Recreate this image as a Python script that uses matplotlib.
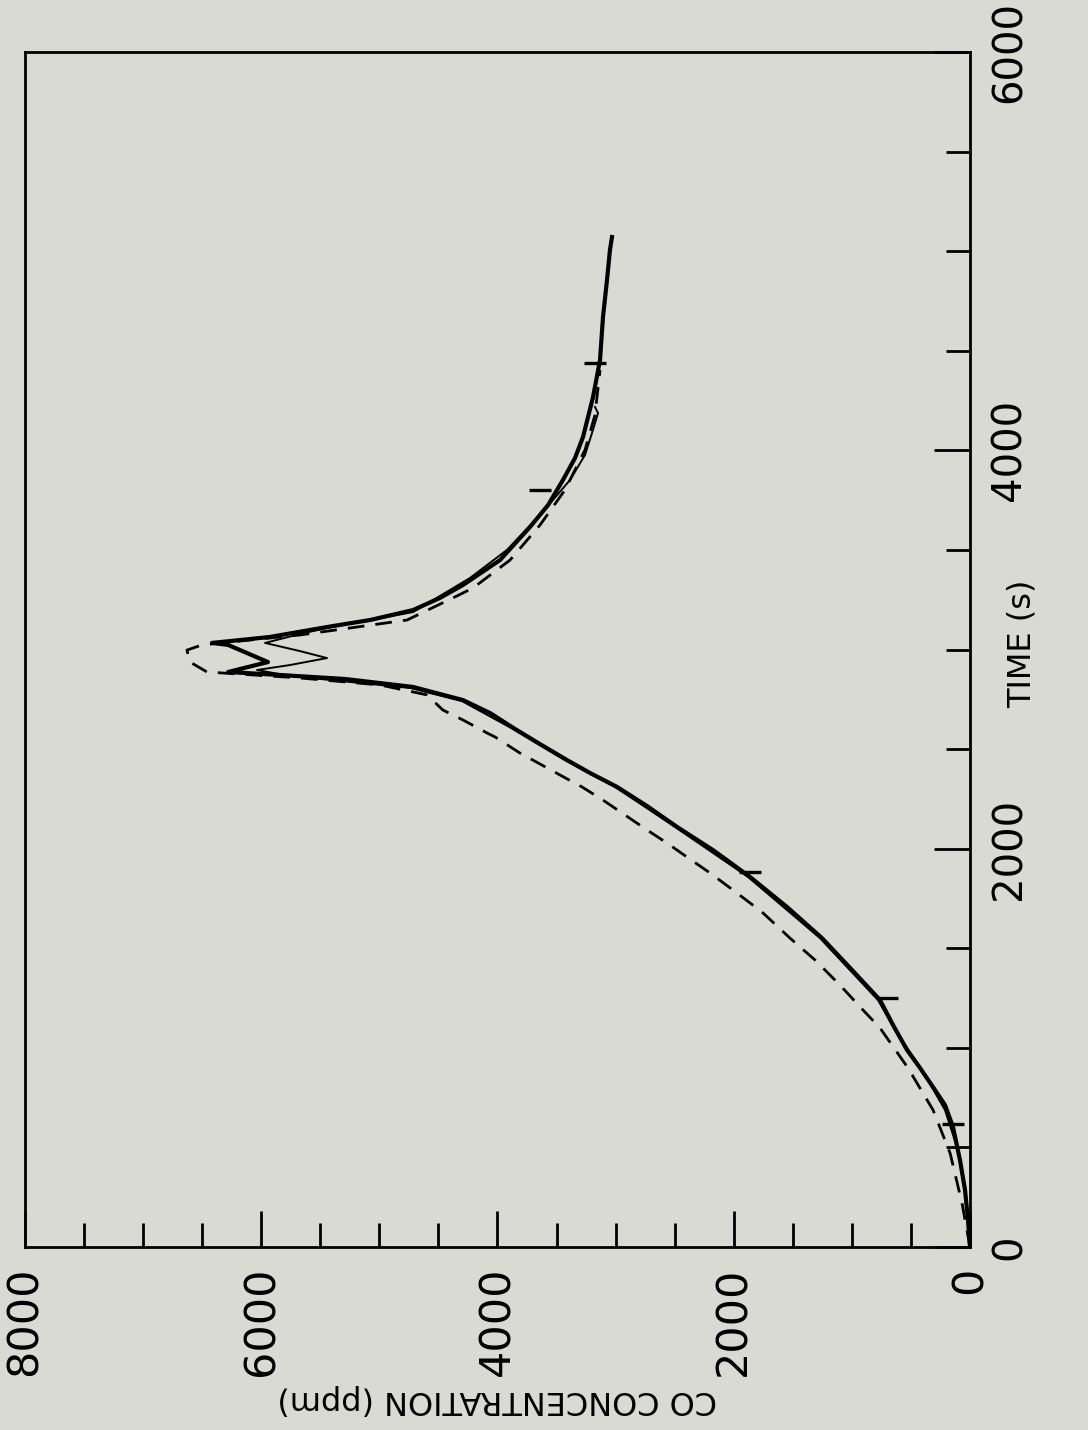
"""
CO concentration vs time, scanned page rotated 90 degrees
"""

import matplotlib.pyplot as plt

# thick solid curve
time_main = [0, 136, 286, 437, 603, 713, 803, 899, 989, 1115, 1240, 1391, 1551,
             1707, 1858, 1993, 2109, 2214, 2310, 2380, 2445, 2525, 2601, 2681,
             2746, 2812, 2852, 2872, 2887, 2937, 3023, 3033, 3063, 3113, 3148,
             3198, 3259, 3324, 3449, 3615, 3725, 3851, 3961, 4067, 4268, 4454,
             4669, 4855, 5006, 5071]
conc_main = [0, 17, 42, 85, 144, 212, 313, 423, 533, 652, 762, 999, 1253,
             1549, 1862, 2176, 2480, 2734, 2988, 3217, 3412, 3640, 3852, 4063,
             4292, 4715, 5291, 5841, 6281, 5943, 6281, 6417, 5926, 5443, 5079,
             4715, 4487, 4292, 3979, 3725, 3572, 3446, 3344, 3276, 3191, 3132,
             3107, 3073, 3048, 3031]

# thin solid curve (oscillates at the peak, stops near 4200 s)
time_thin = [0, 236, 487, 688, 889, 1090, 1240, 1551, 1858, 2109, 2310, 2445,
             2601, 2741, 2807, 2842, 2867, 2897, 2922, 2957, 2992, 3033, 3078,
             3108, 3188, 3359, 3500, 3675, 3851, 3977, 4102, 4187, 4218]
conc_thin = [0, 34, 102, 212, 406, 635, 779, 1270, 1879, 2497, 3005, 3429,
             3869, 4301, 4741, 5333, 5757, 6036, 5757, 5443, 5672, 5968, 5672,
             5443, 4715, 4233, 3920, 3640, 3386, 3259, 3192, 3149, 3175]

# dashed curve
time_dash = [0, 221, 472, 688, 899, 1100, 1190, 1315, 1441, 1551, 1682, 1792,
             1878, 1958, 2028, 2094, 2169, 2244, 2310, 2370, 2425, 2480, 2561,
             2581, 2646, 2696, 2772, 2822, 2857, 2887, 2937, 2997, 3023, 3073,
             3148, 3259, 3309, 3449, 3625, 3801, 4002, 4177, 4403]
conc_dash = [0, 68, 169, 313, 525, 762, 906, 1101, 1312, 1524, 1761, 2006,
             2201, 2396, 2565, 2734, 2921, 3107, 3285, 3471, 3640, 3810, 4021,
             4089, 4292, 4462, 4597, 4995, 5672, 6459, 6603, 6629, 6501, 5672,
             4766, 4377, 4207, 3894, 3640, 3429, 3259, 3175, 3132]

# small symbols sitting on the curves
time_marks = [618, 1250, 1883, 3801, 4439]
conc_marks = [144, 703, 1862, 3640, 3175]

BG = "#d9dad3"

fig = plt.figure(figsize=(10.88, 14.30), dpi=100, facecolor=BG)
ax = fig.add_axes([25 / 1088, 1 - 1247 / 1430, 945 / 1088, 1195 / 1430])
ax.set_facecolor(BG)

ax.plot(conc_dash, time_dash, color="black", lw=2.0, ls=(0, (6, 4)),
        solid_joinstyle="round", dash_joinstyle="round")
ax.plot(conc_thin, time_thin, color="black", lw=1.4, solid_joinstyle="round")
ax.plot(conc_main, time_main, color="black", lw=3.0, solid_joinstyle="round")
ax.plot(conc_marks, time_marks, ls="none", marker="_", ms=16, mew=2.4, color="black")

ax.set_xlim(8000, 0)
ax.set_ylim(0, 6000)

for side in ["top", "bottom", "left", "right"]:
    ax.spines[side].set_linewidth(2.0)

# concentration axis (bottom)
ax.set_xticks(range(0, 8001, 2000))
ax.set_xticks(range(0, 8001, 500), minor=True)
ax.tick_params(axis="x", which="major", direction="in", length=26, width=2,
               pad=14, labelsize=31, labelrotation=90)
ax.tick_params(axis="x", which="minor", direction="in", length=17, width=2)

# time axis (right)
ax.yaxis.tick_right()
ax.set_yticks(range(0, 6001, 2000))
ax.set_yticks(range(0, 6001, 500), minor=True)
ax.tick_params(axis="y", which="major", direction="in", length=26, width=2,
               pad=14, labelsize=29, labelrotation=90)
ax.tick_params(axis="y", which="minor", direction="in", length=17, width=2)
for lab in ax.get_yticklabels():
    lab.set_verticalalignment("center")

ax.text(1.055, 0.505, "TIME (s)", transform=ax.transAxes, rotation=90,
        ha="center", va="center", fontsize=23)
ax.text(0.5, -0.128, "CO CONCENTRATION (ppm)", transform=ax.transAxes,
        rotation=180, ha="center", va="center", fontsize=23)

fig.savefig("out.png", dpi=100, facecolor=BG)
